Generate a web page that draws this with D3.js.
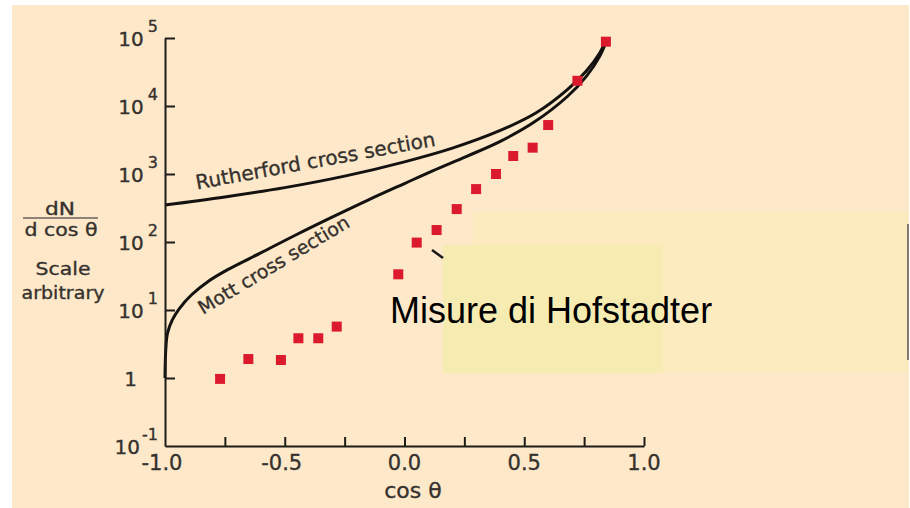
<!DOCTYPE html>
<html>
<head>
<meta charset="utf-8">
<script src="https://cdn.jsdelivr.net/npm/d3@7"></script>
<style>
  html, body { margin: 0; padding: 0; background: #ffffff; }
  svg { display: block; }
  .ct { stroke: #35312e; stroke-width: 0.35px; }
</style>
</head>
<body>
<svg id="chart" width="910" height="508"></svg>
<script>
// ---------- data ----------
const xTicks = [-1, -0.75, -0.5, -0.25, 0, 0.25, 0.5, 0.75, 1];
const xTickLabels = [-1.0, -0.5, 0.0, 0.5, 1.0];
const yTicks = [1e5, 1e4, 1e3, 1e2, 1e1, 1, 1e-1];

const rutherfordCos = [-1.0, -0.75, -0.5, -0.25, 0.0, 0.2, 0.4, 0.55, 0.68, 0.76, 0.815, 0.845];
const rutherfordVal = [350, 460, 630, 930, 1510, 2400, 4370, 7940, 17400, 33100, 60300, 100000];

const mottCos = [-1.0, -0.997, -0.99, -0.97, -0.94, -0.89, -0.82, -0.74, -0.6, -0.45, -0.3, -0.15, 0.0, 0.12, 0.26, 0.4, 0.54, 0.68, 0.76, 0.815, 0.845];
const mottVal = [1, 2.5, 4.5, 7.1, 10.5, 16.6, 26.3, 38.9, 69.2, 129, 234, 417, 724, 1122, 1820, 3020, 5750, 13800, 27500, 53700, 93300];

const hofCos = [-0.77, -0.652, -0.516, -0.443, -0.36, -0.283, -0.026, 0.051, 0.134, 0.218, 0.299, 0.382, 0.454, 0.535, 0.60, 0.722, 0.841];
const hofVal = [0.97, 1.9, 1.84, 3.84, 3.84, 5.7, 33.5, 98, 150, 305, 600, 1000, 1840, 2440, 5250, 23500, 88300];

const curveLabels = ["Rutherford cross section", "Mott cross section"];
const noteText = "Misure di Hofstadter";

// ---------- layout ----------
const svg = d3.select("#chart");
const textColor = "#35312e";
const font = "'DejaVu Sans', sans-serif";

svg.append("rect").attr("x", 12).attr("y", 5).attr("width", 897).attr("height", 503).attr("fill", "#fde9c9");

const x = d3.scaleLinear().domain([-1, 1]).range([165, 644]);
const y = d3.scaleLog().domain([0.1, 1e5]).range([446, 38]);

// curves
const line = d3.line().x(d => x(d[0])).y(d => y(d[1])).curve(d3.curveCatmullRom.alpha(0.5));
const rData = rutherfordCos.map((c, i) => [c, rutherfordVal[i]]);
const mData = mottCos.map((c, i) => [c, mottVal[i]]);

svg.append("path").datum(rData).attr("d", line)
  .attr("fill", "none").attr("stroke", "#141210").attr("stroke-width", 3);
svg.append("path").datum(mData).attr("d", line)
  .attr("fill", "none").attr("stroke", "#141210").attr("stroke-width", 3);

// axes
const yAxis = d3.axisLeft(y).tickValues(yTicks.filter(v => v > 0.1)).tickSizeInner(-10).tickSizeOuter(0).tickFormat("");
const gy = svg.append("g").attr("transform", `translate(${x(-1)},0)`).call(yAxis);
const xAxis = d3.axisBottom(x).tickValues(xTicks.filter(v => v > -1)).tickSizeInner(-9).tickSizeOuter(0).tickFormat("");
const gx = svg.append("g").attr("transform", `translate(0,${y(0.1)})`).call(xAxis);
[gy, gx].forEach(g => {
  g.selectAll("path.domain").attr("stroke", "#1e1c1a").attr("stroke-width", 2);
  g.selectAll(".tick line").attr("stroke", "#1e1c1a").attr("stroke-width", 2);
});

// y tick labels
yTicks.forEach(v => {
  const e = Math.round(Math.log10(v));
  const t = svg.append("text").attr("class", "ct").attr("y", y(v) + 8)
    .attr("fill", textColor).attr("font-family", font).attr("font-size", 20)
    .attr("text-anchor", "end");
  if (e === 0) {
    t.attr("x", 137).text("1");
  } else {
    t.attr("x", 158);
    t.append("tspan").text("10");
    t.append("tspan").attr("dx", e < 0 ? 2 : 4).attr("dy", -14).attr("font-size", 16).text(e < 0 ? "-" + Math.abs(e) : String(e));
  }
});

// x tick labels
svg.selectAll("text.xl").data(xTickLabels).join("text")
  .attr("class", "xl ct")
  .attr("x", d => x(d) - (d < 0 ? 3 : 0)).attr("y", 470)
  .attr("text-anchor", "middle").attr("fill", textColor)
  .attr("font-family", font).attr("font-size", 21)
  .text(d => d.toFixed(1));

svg.append("text").attr("class", "ct").attr("x", 413).attr("y", 498).attr("text-anchor", "middle")
  .attr("fill", textColor).attr("font-family", font).attr("font-size", 22)
  .text("cos θ");

// y axis label
const yl = [
  {t: "dN", x: 60, y: 215, len: 30},
  {t: "d cos θ", x: 61, y: 236, len: 73},
  {t: "Scale", x: 63, y: 275, len: 55},
  {t: "arbitrary", x: 63, y: 299, len: 83}
];
yl.forEach(d => {
  svg.append("text").attr("class", "ct").attr("x", d.x).attr("y", d.y).attr("text-anchor", "middle")
    .attr("fill", textColor).attr("font-family", font).attr("font-size", 18)
    .attr("textLength", d.len).attr("lengthAdjust", "spacingAndGlyphs").text(d.t);
});
svg.append("line").attr("x1", 23).attr("x2", 98).attr("y1", 218).attr("y2", 218)
  .attr("stroke", "#6a625c").attr("stroke-width", 1.5);

// curve labels
svg.append("text").attr("class", "ct").attr("transform", "translate(197,189.5) rotate(-10.4)")
  .attr("fill", textColor).attr("font-family", font).attr("font-size", 20)
  .text(curveLabels[0]);
svg.append("text").attr("class", "ct").attr("transform", "translate(203,315) rotate(-31)")
  .attr("fill", textColor).attr("font-family", font).attr("font-size", 19)
  .text(curveLabels[1]);

// data points
const pts = hofCos.map((c, i) => [c, hofVal[i]]);
svg.selectAll("rect.pt").data(pts).join("rect")
  .attr("class", "pt")
  .attr("x", d => x(d[0]) - 5).attr("y", d => y(d[1]) - 5)
  .attr("width", 10).attr("height", 10)
  .attr("fill", "#dc1a2e");

// overlay note boxes
svg.append("rect").attr("x", 473).attr("y", 212).attr("width", 435).attr("height", 161).attr("fill", "#fcebbe");
svg.append("rect").attr("x", 443).attr("y", 245).attr("width", 220).attr("height", 128).attr("fill", "#f6ecb2");
svg.append("line").attr("x1", 908).attr("x2", 908).attr("y1", 224).attr("y2", 360)
  .attr("stroke", "#555").attr("stroke-width", 1.5);
svg.append("line").attr("x1", 432).attr("y1", 250).attr("x2", 443).attr("y2", 258)
  .attr("stroke", "#1a1a1a").attr("stroke-width", 2.5);

svg.append("text").attr("x", 390).attr("y", 323)
  .attr("font-family", "'Liberation Sans', Arial, sans-serif").attr("font-size", 36)
  .attr("fill", "#000").text(noteText);
</script>
</body>
</html>
